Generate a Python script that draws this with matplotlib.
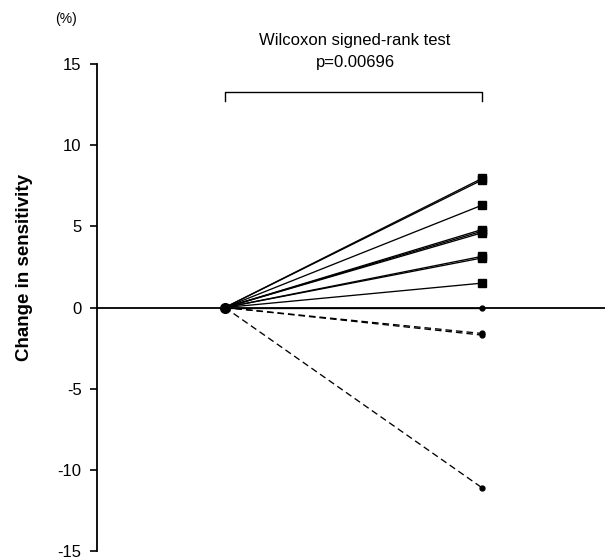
"""
Cambio de sensibilidad por sujeto (antes -> despues), con test de Wilcoxon.
"""
import numpy as np
import matplotlib; matplotlib.use("Agg")
import matplotlib.pyplot as plt

plt.rcParams["font.family"] = ["Liberation Sans", "DejaVu Sans"]

# datos (cambio en %)
before = [0.0] * 13
after = [7.95, 7.85, 6.3, 4.8, 4.7, 4.6, 3.15, 3.05, 1.5, 0.0, -1.6, -1.7, -11.1]
positions = [1, 2]
yticks = [-15, -10, -5, 0, 5, 10, 15]
test_name = "Wilcoxon signed-rank test"
test_p = "p=0.00696"
bracket_y = [12.7, 13.3]

W, H = 605, 560
fig = plt.figure(figsize=(W/100, H/100), dpi=100)
ax = fig.add_axes([97/W, 9/H, 508/W, 487/H])

for b, a in zip(before, after):
    ls = "--" if a < 0 else "-"
    ax.plot(positions, [b, a], color="black", lw=0.95, ls=ls,
            dashes=(5, 3) if a < 0 else (None, None), zorder=2)
    if a > 0:
        ax.plot(positions[1], a, marker="s", ms=6, color="black", ls="none", zorder=3)
    else:
        ax.plot(positions[1], a, marker="o", ms=3.5, color="black", ls="none", zorder=3)
ax.plot(positions[0], 0, marker="o", ms=7, color="black", ls="none", zorder=4)

# corchete del test
ax.plot([positions[0], positions[0], positions[1], positions[1]],
        [bracket_y[0], bracket_y[1], bracket_y[1], bracket_y[0]], color="black", lw=1)
fig.text(355/W, 1 - 45/H, test_name, ha="center", va="baseline", fontsize=12)
fig.text(355/W, 1 - 67/H, test_p, ha="center", va="baseline", fontsize=12)

ax.set_xlim(0.502, 2.479)
ax.set_ylim(-15, 15)
ax.set_yticks(yticks)
ax.set_yticklabels([str(t) for t in yticks], fontsize=12)
ax.tick_params(axis="y", direction="out", length=5, width=1.2, pad=6)
ax.tick_params(axis="x", length=0, labelbottom=False)
ax.spines["top"].set_visible(False)
ax.spines["right"].set_visible(False)
ax.spines["bottom"].set_position(("data", 0))
ax.spines["bottom"].set_linewidth(1.3)
ax.spines["left"].set_linewidth(1.3)
ax.set_xticks([])

fig.text(25/W, 1 - 267/H, "Change in sensitivity", rotation=90, ha="center", va="center",
         fontsize=13.5, fontweight="bold")
fig.text(66/W, 1 - 18.5/H, "(%)", ha="center", va="center", fontsize=10)

fig.savefig("out.png", dpi=100)
